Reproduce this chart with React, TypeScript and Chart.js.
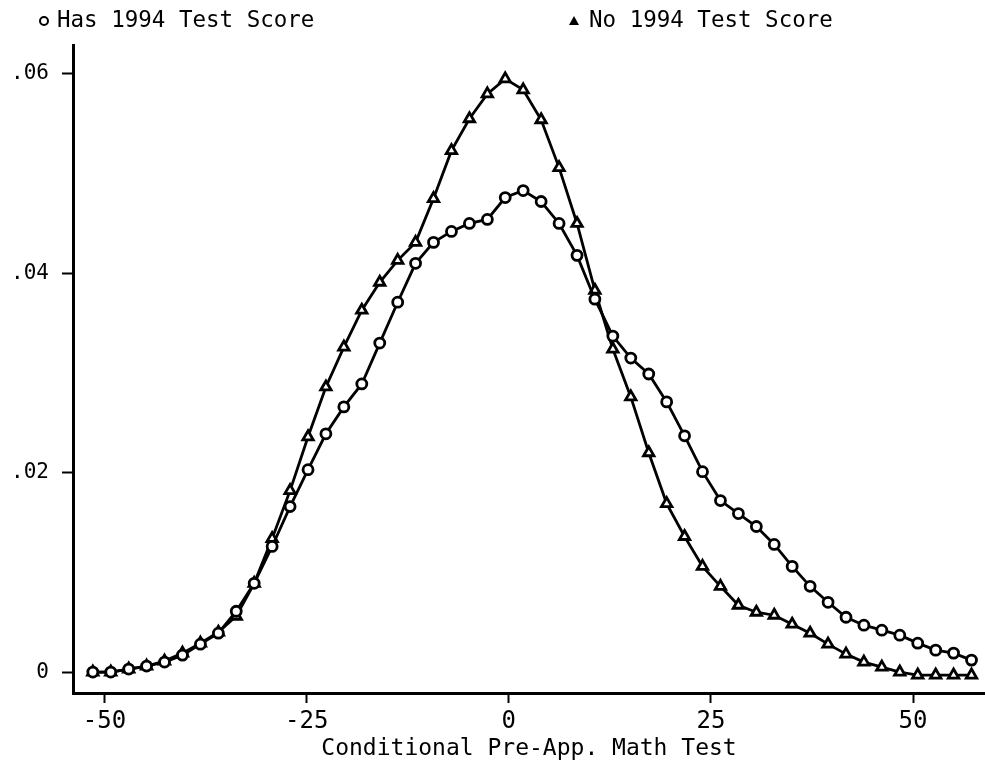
import React, { useEffect, useRef } from 'react';
import { Chart, registerables } from 'chart.js';

Chart.register(...registerables);

// ---- data ----
const xValues = [
  -51.45, -49.23, -47.01, -44.8, -42.58, -40.36, -38.14, -35.92, -33.71, -31.49,
  -29.27, -27.05, -24.83, -22.62, -20.4, -18.18, -15.96, -13.74, -11.53, -9.31,
  -7.09, -4.87, -2.65, -0.44, 1.78, 4.0, 6.22, 8.44, 10.65, 12.87,
  15.09, 17.31, 19.53, 21.74, 23.96, 26.18, 28.4, 30.62, 32.83, 35.05,
  37.27, 39.49, 41.71, 43.92, 46.14, 48.36, 50.58, 52.8, 55.01, 57.23,
];

const hasScore = [
  0.0, 0.0, 0.0003, 0.0006, 0.001, 0.0017, 0.0028, 0.0039, 0.0061, 0.0089,
  0.0126, 0.0166, 0.0203, 0.0239, 0.0266, 0.0289, 0.033, 0.0371, 0.041, 0.0431,
  0.0442, 0.045, 0.0454, 0.0476, 0.0483, 0.0472, 0.045, 0.0418, 0.0374, 0.0337,
  0.0315, 0.0299, 0.0271, 0.0237, 0.0201, 0.0172, 0.0159, 0.0146, 0.0128, 0.0106,
  0.0086, 0.007, 0.0055, 0.0047, 0.0042, 0.0037, 0.0029, 0.0022, 0.0019, 0.0012,
];

const noScore = [
  0.0, 0.0, 0.0003, 0.0006, 0.0011, 0.0019, 0.0029, 0.004, 0.0056, 0.0089,
  0.0134, 0.0182, 0.0236, 0.0286, 0.0326, 0.0363, 0.0391, 0.0413, 0.0431, 0.0475,
  0.0523, 0.0555, 0.058, 0.0595, 0.0584, 0.0554, 0.0506, 0.045, 0.0383, 0.0324,
  0.0276, 0.022, 0.0169, 0.0136, 0.0106, 0.0086, 0.0067, 0.006, 0.0057, 0.0048,
  0.0039, 0.0028, 0.0018, 0.001, 0.0005, 0.0, -0.0003, -0.0003, -0.0003, -0.0003,
];

const seriesLabels = ['Has 1994 Test Score', 'No 1994 Test Score'];
const xTicks = [-50, -25, 0, 25, 50];
const xTickLabels = ['-50', '-25', '0', '25', '50'];
const yTicks = [0, 0.02, 0.04, 0.06];
const yTickLabels = ['0', '.02', '.04', '.06'];
const xTitle = 'Conditional Pre-App. Math Test';

const FONT = '"DejaVu Sans Mono", "Liberation Mono", monospace';

const topLegend = {
  id: 'topLegend',
  afterDraw(chart: any) {
    const ctx = chart.ctx as CanvasRenderingContext2D;
    ctx.save();
    ctx.fillStyle = '#000';
    ctx.strokeStyle = '#000';
    ctx.font = `22.5px ${FONT}`;
    ctx.textBaseline = 'middle';
    ctx.textAlign = 'left';
    // circle marker
    ctx.lineWidth = 2;
    ctx.beginPath();
    ctx.arc(44, 21, 4, 0, Math.PI * 2);
    ctx.stroke();
    ctx.fillText(seriesLabels[0], 57, 21);
    // triangle marker
    ctx.beginPath();
    ctx.moveTo(574, 16);
    ctx.lineTo(579, 25);
    ctx.lineTo(569, 25);
    ctx.closePath();
    ctx.fill();
    ctx.fillText(seriesLabels[1], 589, 21);
    ctx.restore();
  },
};

export default function App() {
  const canvasRef = useRef<HTMLCanvasElement | null>(null);

  useEffect(() => {
    if (!canvasRef.current) return;
    const chart = new Chart(canvasRef.current, {
      type: 'line',
      data: {
        datasets: [
          {
            label: seriesLabels[0],
            data: xValues.map((x, i) => ({ x, y: hasScore[i] })),
            borderColor: '#000',
            borderWidth: 2.8,
            pointStyle: 'circle',
            pointRadius: 5,
            pointBorderWidth: 2.8,
            pointBackgroundColor: '#fff',
            pointBorderColor: '#000',
            tension: 0,
            fill: false,
          },
          {
            label: seriesLabels[1],
            data: xValues.map((x, i) => ({ x, y: noScore[i] })),
            borderColor: '#000',
            borderWidth: 2.8,
            pointStyle: 'triangle',
            pointRadius: 6,
            pointBorderWidth: 2.8,
            pointBackgroundColor: '#fff',
            pointBorderColor: '#000',
            tension: 0,
            fill: false,
          },
        ],
      },
      options: {
        animation: false,
        responsive: false,
        devicePixelRatio: 1,
        layout: { autoPadding: false, padding: { top: 45, left: 0, right: 0, bottom: 0 } },
        plugins: {
          legend: { display: false },
          tooltip: { enabled: false },
        },
        scales: {
          x: {
            type: 'linear',
            min: -53.9,
            max: 58.9,
            afterBuildTicks: (s: any) => {
              s.ticks = xTicks.map((v) => ({ value: v }));
            },
            afterFit: (s: any) => {
              s.height = 77;
              s.paddingLeft = 0;
              s.paddingRight = 0;
            },
            border: { color: '#000', width: 3 },
            grid: {
              drawOnChartArea: false,
              drawTicks: true,
              tickLength: 10,
              tickWidth: 2,
              tickColor: '#000',
              color: '#000',
            },
            ticks: {
              color: '#000',
              font: { family: FONT, size: 24 },
              padding: 4,
              maxRotation: 0,
              autoSkip: false,
              callback: (_v: any, i: number) => xTickLabels[i],
            },
            title: {
              display: true,
              text: xTitle,
              color: '#000',
              font: { family: FONT, size: 23 },
              padding: { top: 0, bottom: 7 },
            },
          },
          y: {
            type: 'linear',
            min: -0.0021,
            max: 0.0629,
            afterBuildTicks: (s: any) => {
              s.ticks = yTicks.map((v) => ({ value: v }));
            },
            afterFit: (s: any) => {
              s.width = 73;
            },
            border: { color: '#000', width: 3 },
            grid: {
              drawOnChartArea: false,
              drawTicks: true,
              tickLength: 11,
              tickWidth: 2,
              tickColor: '#000',
              color: '#000',
            },
            ticks: {
              color: '#000',
              font: { family: FONT, size: 21 },
              padding: 13,
              autoSkip: false,
              callback: (_v: any, i: number) => yTickLabels[i],
            },
          },
        },
      },
      plugins: [topLegend],
    } as any);
    return () => chart.destroy();
  }, []);

  return (
    <div
      style={{
        position: 'fixed',
        left: 0,
        top: 0,
        width: 985,
        height: 770,
        background: '#fff',
      }}
    >
      <canvas ref={canvasRef} width={985} height={770} style={{ display: 'block' }} />
    </div>
  );
}
